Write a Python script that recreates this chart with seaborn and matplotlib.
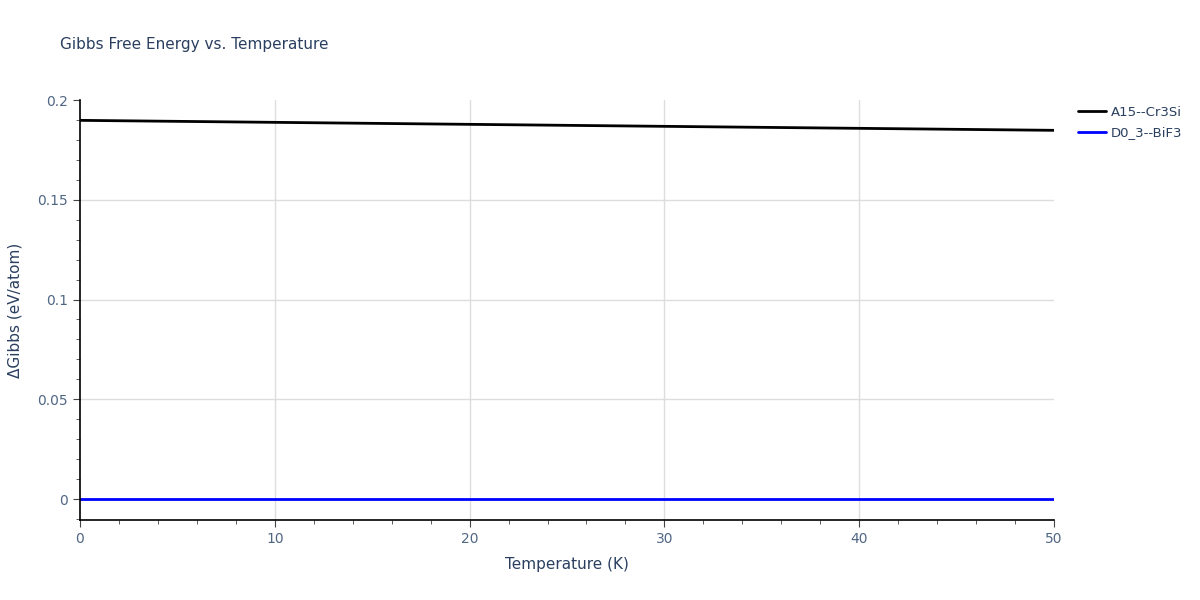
import numpy as np
import pandas as pd
import matplotlib
matplotlib.use('Agg')
import matplotlib.pyplot as plt
import seaborn as sns
from matplotlib.ticker import MultipleLocator

# Dữ liệu
temperature = [0, 10, 20, 30, 40, 50]
a15_cr3si = [0.1898, 0.1888, 0.1878, 0.1868, 0.1858, 0.1848]
d0_3_bif3 = [0.0, 0.0, 0.0, 0.0, 0.0, 0.0]
phases = ['A15--Cr3Si', 'D0_3--BiF3']
x_ticks = [0, 10, 20, 30, 40, 50]
y_ticks = [0, 0.05, 0.1, 0.15, 0.2]
y_tick_labels = ['0', '0.05', '0.1', '0.15', '0.2']

df = pd.DataFrame({
    'T': temperature * 2,
    'G': a15_cr3si + d0_3_bif3,
    'phase': [phases[0]] * len(temperature) + [phases[1]] * len(temperature),
})

sns.set_style('white')
plt.rcParams['font.family'] = ['DejaVu Sans']
text_color = '#2a3f5f'
tick_color = '#506784'

fig = plt.figure(figsize=(12, 6), dpi=100)
ax = fig.add_axes([80 / 1200, 1 - 520 / 600, (1054 - 80) / 1200, 420 / 600])

# lưới bên trong (bỏ mép trên và mép phải)
for xv in x_ticks[1:-1]:
    ax.axvline(xv, color='#dddddd', linewidth=1, zorder=0)
for yv in y_ticks[1:-1]:
    ax.axhline(yv, color='#dddddd', linewidth=1, zorder=0)

sns.lineplot(data=df, x='T', y='G', hue='phase', palette=['black', 'blue'],
             linewidth=2, ax=ax, legend=False)

ax.set_xlim(0, 50)
ax.set_ylim(-0.0105, 0.2)
ax.set_xticks(x_ticks)
ax.xaxis.set_minor_locator(MultipleLocator(2))
ax.set_yticks(y_ticks)
ax.set_yticklabels(y_tick_labels)
ax.yaxis.set_minor_locator(MultipleLocator(0.01))
ax.grid(False)

for s in ['top', 'right']:
    ax.spines[s].set_visible(False)
for s in ['left', 'bottom']:
    ax.spines[s].set_color('black')
    ax.spines[s].set_linewidth(1.2)

ax.tick_params(which='major', direction='out', length=5, color='#444444',
               labelcolor=tick_color, labelsize=10, left=True, bottom=True)
ax.tick_params(which='minor', direction='out', length=3, color='#444444',
               left=True, bottom=True)

ax.set_xlabel('Temperature (K)', color=text_color, fontsize=11, labelpad=8)
ax.set_ylabel('ΔGibbs (eV/atom)', color=text_color, fontsize=11, labelpad=11)

fig.text(60 / 1200, 1 - 45 / 600, 'Gibbs Free Energy vs. Temperature',
         color=text_color, fontsize=11, va='center')

# Chú thích bên phải
handles = [plt.Line2D([], [], color='black', linewidth=2),
           plt.Line2D([], [], color='blue', linewidth=2)]
fig.legend(handles, phases, loc='upper left', bbox_to_anchor=(1078 / 1200, 1 - 106 / 600),
           frameon=False, fontsize=9.5, labelcolor=text_color, handlelength=2.1,
           handletextpad=0.4, labelspacing=0.55, borderaxespad=0, borderpad=0)

fig.savefig('out.png', dpi=100)
